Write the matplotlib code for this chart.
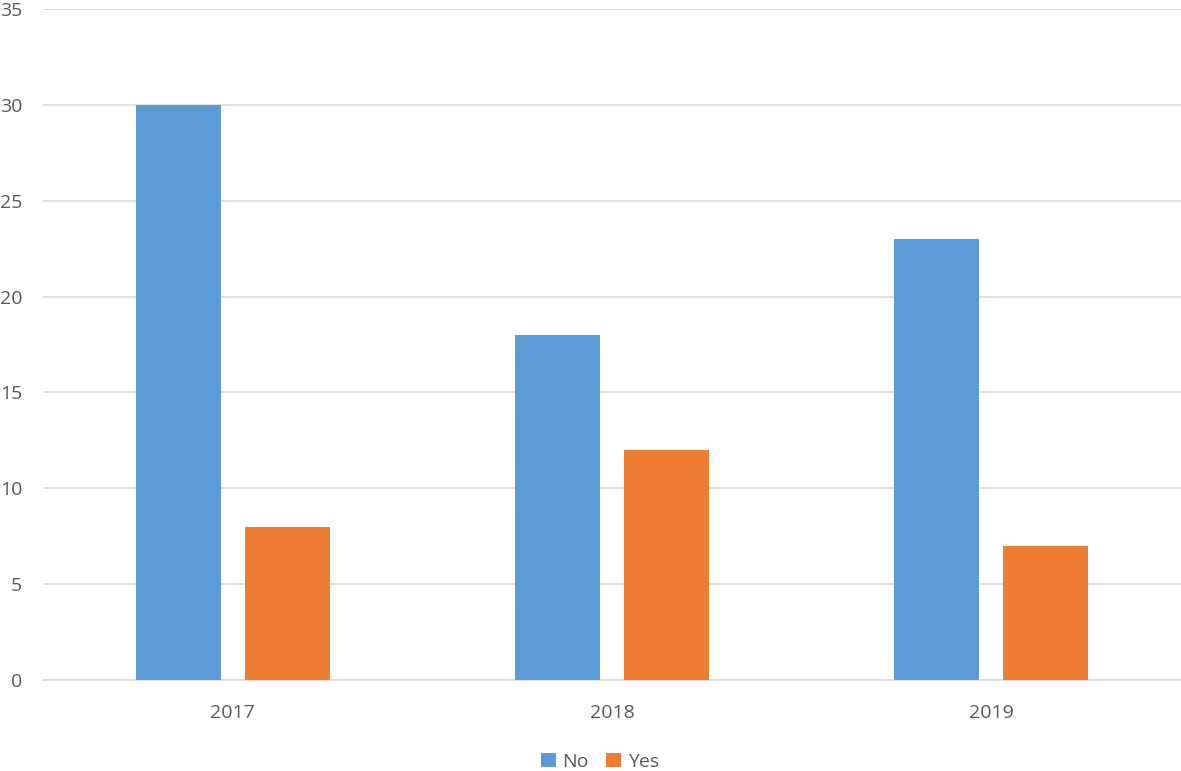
import numpy as np
import matplotlib
matplotlib.use("Agg")
import matplotlib.pyplot as plt

plt.rcParams['font.family'] = ['Open Sans', 'DejaVu Sans']

years = ["2017", "2018", "2019"]
no_values = [30, 18, 23]
yes_values = [8, 12, 7]
y_ticks = [0, 5, 10, 15, 20, 25, 30, 35]

blue = "#5B9BD5"
orange = "#ED7D31"
text_color = "#595959"
grid_color = "#D9D9D9"

W, H = 1181, 771
fig = plt.figure(figsize=(W / 100, H / 100), dpi=100)
ax = fig.add_axes([43 / W, (H - 680) / H, (W - 43) / W, (680 - 9) / H])

x = np.arange(len(years))
bw = 0.224
gap = 0.063
ax.bar(x - (bw + gap) / 2, no_values, bw, color=blue, label="No", zorder=3)
ax.bar(x + (bw + gap) / 2, yes_values, bw, color=orange, label="Yes", zorder=3)

ax.set_xlim(-0.5, len(years) - 0.5)
ax.set_ylim(0, 35)
ax.set_yticks(y_ticks)
ax.set_xticks(x)
ax.set_xticklabels(years)
ax.yaxis.grid(True, color=grid_color, linewidth=1.2, zorder=0)
ax.tick_params(axis='both', length=0, labelsize=14, colors=text_color)
ax.tick_params(axis='y', pad=15)
ax.tick_params(axis='x', pad=17)
for side in ["top", "right", "left"]:
    ax.spines[side].set_visible(False)
ax.spines["bottom"].set_color(grid_color)
ax.spines["bottom"].set_linewidth(1.2)

leg = fig.legend(loc="center", bbox_to_anchor=(600 / W, (H - 762) / H), ncol=2,
                 frameon=False, fontsize=14, handlelength=0.75, handleheight=0.75,
                 handletextpad=0.35, columnspacing=0.9)
for t in leg.get_texts():
    t.set_color(text_color)

fig.savefig("out.png", dpi=100)
